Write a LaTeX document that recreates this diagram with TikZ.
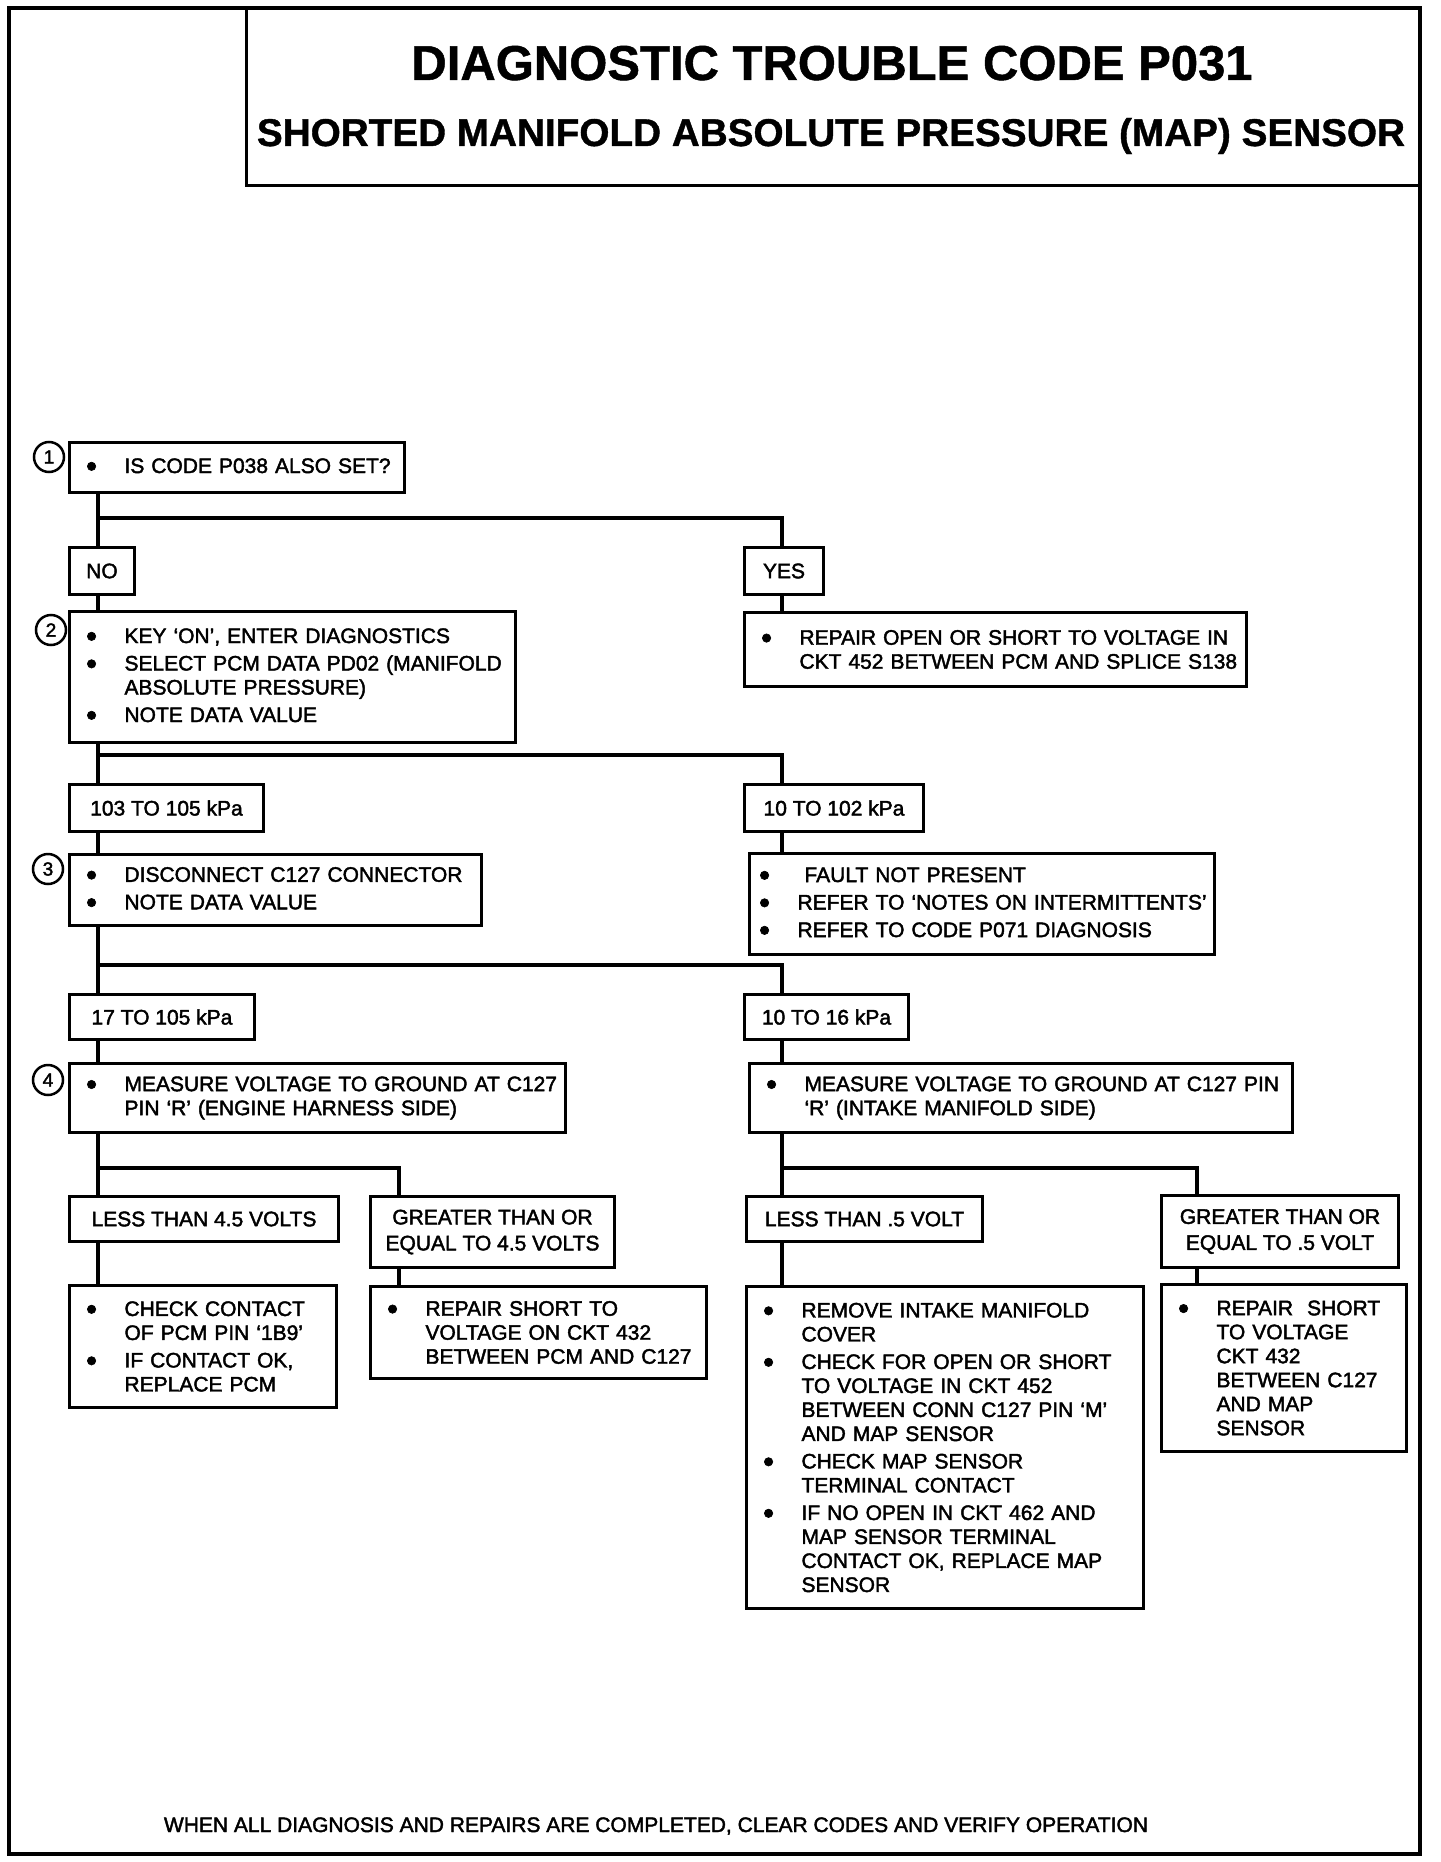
\documentclass[tikz,border=0pt]{standalone}
\usepackage{fontspec}
\setmainfont{Liberation Sans}
\newfontfamily\scan{Liberation Sans}[FakeBold=2,Ligatures=TeX]
\newfontfamily\headfont{Liberation Sans Bold}[FakeBold=1,Ligatures=TeX]
\usepackage{tikz}
\usetikzlibrary{positioning}

\newcommand\bul{\leavevmode\llap{\raisebox{-3.6pt}{\fontsize{31}{24}\selectfont\textbullet}\hspace{27.5pt}}}

\begin{document}
\begin{tikzpicture}[x=1pt,y=-1pt,
    box/.style={draw,line width=3pt,anchor=north west,inner xsep=0pt,inner ysep=3pt,align=left,
      font=\scan\fontsize{21}{24}\selectfont,execute at begin node={\leftskip=55pt}},
    tag/.style={draw,line width=3pt,anchor=north west,inner sep=0pt,align=center,
      font=\scan\fontsize{21}{26}\selectfont},
    num/.style={circle,draw,line width=2.5pt,inner sep=0pt,minimum size=30pt,
      font=\scan\fontsize{19}{19}\selectfont},
    link/.style={line width=4.5pt}]
        \useasboundingbox (0,0) rectangle (1440,1862);
        \draw [line width=3.5pt] (9,8) rectangle (1420,1854);
        \draw [line width=3pt] (246,8) rectangle (1420,186);
        \node [anchor=base,font=\headfont\fontsize{49}{55}\selectfont] (head) at (832,80) {DIAGNOSTIC TROUBLE CODE P031};
        \node [anchor=base,font=\headfont\fontsize{38.7}{44}\selectfont] (sub) at (831,146) {SHORTED MANIFOLD ABSOLUTE PRESSURE (MAP) SENSOR};

        \node [box,text width=335pt,minimum height=50pt] (b1) at (68,441) {\bul IS CODE P038 ALSO SET?};
        \node [tag,minimum width=65pt,minimum height=47pt] (no) at (68,546) {NO};
        \node [tag,minimum width=79pt,minimum height=47pt] (yes) at (743,546) {YES};
        \node [box,text width=446pt,minimum height=131pt] (b2) at (68,610) {\bul KEY `ON', ENTER DIAGNOSTICS\\[3.5pt]
          \bul SELECT PCM DATA PD02 (MANIFOLD\\ ABSOLUTE PRESSURE)\\[3.5pt]
          \bul NOTE DATA VALUE};
        \node [box,text width=502pt,minimum height=74pt] (rep) at (743,611) {\bul REPAIR OPEN OR SHORT TO VOLTAGE IN\\ CKT 452 BETWEEN PCM AND SPLICE S138};
        \node [tag,minimum width=194pt,minimum height=47pt] (k1) at (68,783) {103 TO 105 kPa};
        \node [tag,minimum width=179pt,minimum height=47pt] (k2) at (743,783) {10 TO 102 kPa};
        \node [box,text width=412pt,minimum height=71pt] (b3) at (68,853) {\bul DISCONNECT C127 CONNECTOR\\[3.5pt]
          \bul NOTE DATA VALUE};
        \node [box,text width=465pt,minimum height=101pt,execute at begin node={\leftskip=48pt}] (flt) at (748,852) {\bul\hspace{7pt}FAULT NOT PRESENT\\[3.5pt]
          \bul REFER TO `NOTES ON INTERMITTENTS'\\[3.5pt]
          \bul REFER TO CODE P071 DIAGNOSIS};
        \node [tag,minimum width=185pt,minimum height=45pt] (k3) at (68,993) {17 TO 105 kPa};
        \node [tag,minimum width=164pt,minimum height=45pt] (k4) at (743,993) {10 TO 16 kPa};
        \node [box,text width=496pt,minimum height=69pt] (b4) at (68,1062) {\bul MEASURE VOLTAGE TO GROUND AT C127\\ PIN `R' (ENGINE HARNESS SIDE)};
        \node [box,text width=543pt,minimum height=69pt] (msr) at (748,1062) {\bul MEASURE VOLTAGE TO GROUND AT C127 PIN\\ `R' (INTAKE MANIFOLD SIDE)};
        \node [tag,minimum width=269pt,minimum height=45pt] (v1) at (68,1195) {LESS THAN 4.5 VOLTS};
        \node [tag,minimum width=244pt,minimum height=71pt] (v2) at (369,1195) {GREATER THAN OR\\ EQUAL TO 4.5 VOLTS};
        \node [tag,minimum width=236pt,minimum height=45pt] (v3) at (745,1195) {LESS THAN .5 VOLT};
        \node [tag,minimum width=237pt,minimum height=72pt] (v4) at (1160,1194) {GREATER THAN OR\\ EQUAL TO .5 VOLT};
        \node [box,text width=267pt,minimum height=122pt] (chk) at (68,1284) {\bul CHECK CONTACT\\ OF PCM PIN `1B9'\\[3.5pt]
          \bul IF CONTACT OK,\\ REPLACE PCM};
        \node [box,text width=336pt,minimum height=92pt] (r432) at (369,1285) {\bul REPAIR SHORT TO\\ VOLTAGE ON CKT 432\\ BETWEEN PCM AND C127};
        \node [box,text width=397pt,minimum height=322pt] (rmv) at (745,1285) {\bul REMOVE INTAKE MANIFOLD\\ COVER\\[3.5pt]
          \bul CHECK FOR OPEN OR SHORT\\ TO VOLTAGE IN CKT 452\\ BETWEEN CONN C127 PIN `M'\\ AND MAP SENSOR\\[3.5pt]
          \bul CHECK MAP SENSOR\\ TERMINAL CONTACT\\[3.5pt]
          \bul IF NO OPEN IN CKT 462 AND\\ MAP SENSOR TERMINAL\\ CONTACT OK, REPLACE MAP\\ SENSOR};
        \node [box,text width=245pt,minimum height=167pt] (r432b) at (1160,1283) {\bul REPAIR~~SHORT\\ TO VOLTAGE\\ CKT 432\\ BETWEEN C127\\ AND MAP\\ SENSOR};

        \node [num] (n1) at (49,457) {1};
        \node [num] (n2) at (51,630) {2};
        \node [num] (n3) at (48,869) {3};
        \node [num] (n4) at (48,1080) {4};

        \node [anchor=base,font=\scan\fontsize{21}{24}\selectfont] (foot) at (656,1832) {WHEN ALL DIAGNOSIS AND REPAIRS ARE COMPLETED, CLEAR CODES AND VERIFY OPERATION};

        \coordinate (tl) at (98,0);
        \coordinate (tr) at (782,0);
        \coordinate (tm) at (399,0);
        \coordinate (tf) at (1197,0);
        \coordinate (s1) at (0,518);
        \coordinate (s2) at (0,755);
        \coordinate (s3) at (0,965);
        \coordinate (s4) at (0,1168);

        \draw [link] (b1.south -| tl) -- (no.north -| tl);
        \draw [link] (tl |- s1) -| (tr |- yes.north);
        \draw [link] (no.south -| tl) -- (b2.north -| tl);
        \draw [link] (yes.south -| tr) -- (rep.north -| tr);
        \draw [link] (b2.south -| tl) -- (k1.north -| tl);
        \draw [link] (tl |- s2) -| (tr |- k2.north);
        \draw [link] (k1.south -| tl) -- (b3.north -| tl);
        \draw [link] (k2.south -| tr) -- (flt.north -| tr);
        \draw [link] (b3.south -| tl) -- (k3.north -| tl);
        \draw [link] (tl |- s3) -| (tr |- k4.north);
        \draw [link] (k3.south -| tl) -- (b4.north -| tl);
        \draw [link] (k4.south -| tr) -- (msr.north -| tr);
        \draw [link] (b4.south -| tl) -- (v1.north -| tl);
        \draw [link] (tl |- s4) -| (tm |- v2.north);
        \draw [link] (v1.south -| tl) -- (chk.north -| tl);
        \draw [link] (v2.south -| tm) -- (r432.north -| tm);
        \draw [link] (msr.south -| tr) -- (v3.north -| tr);
        \draw [link] (tr |- s4) -| (tf |- v4.north);
        \draw [link] (v3.south -| tr) -- (rmv.north -| tr);
        \draw [link] (v4.south -| tf) -- (r432b.north -| tf);
\end{tikzpicture}
\end{document}
